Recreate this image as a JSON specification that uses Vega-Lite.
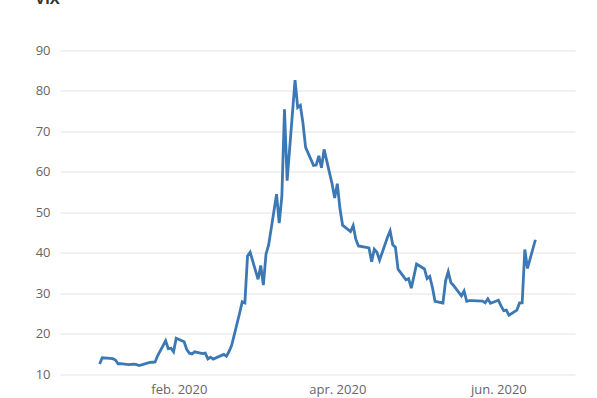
{
  "$schema": "https://vega.github.io/schema/vega-lite/v6.json",
  "width": 515,
  "height": 323.5,
  "autosize": {"type": "none"},
  "padding": {"left": 60, "top": 50.5, "right": 22, "bottom": 24},
  "background": "white",
  "title": {"text": "VIX", "anchor": "start", "frame": "bounds", "font": "Open Sans", "fontSize": 15, "fontWeight": "bold", "color": "#333333", "offset": 38},
  "config": {"view": {"stroke": null}},
  "data": {"values": [
    {"date": "2020-01-02", "vix": 12.47}, {"date": "2020-01-03", "vix": 14.02}, {"date": "2020-01-06", "vix": 13.85}, {"date": "2020-01-07", "vix": 13.79}, {"date": "2020-01-08", "vix": 13.45},
    {"date": "2020-01-09", "vix": 12.54}, {"date": "2020-01-10", "vix": 12.56}, {"date": "2020-01-13", "vix": 12.32}, {"date": "2020-01-14", "vix": 12.39}, {"date": "2020-01-15", "vix": 12.42},
    {"date": "2020-01-16", "vix": 12.32}, {"date": "2020-01-17", "vix": 12.10}, {"date": "2020-01-21", "vix": 12.85}, {"date": "2020-01-22", "vix": 12.91}, {"date": "2020-01-23", "vix": 12.98},
    {"date": "2020-01-24", "vix": 14.56}, {"date": "2020-01-27", "vix": 18.23}, {"date": "2020-01-28", "vix": 16.28}, {"date": "2020-01-29", "vix": 16.39}, {"date": "2020-01-30", "vix": 15.49},
    {"date": "2020-01-31", "vix": 18.84}, {"date": "2020-02-03", "vix": 17.97}, {"date": "2020-02-04", "vix": 16.05}, {"date": "2020-02-05", "vix": 15.15}, {"date": "2020-02-06", "vix": 14.96},
    {"date": "2020-02-07", "vix": 15.47}, {"date": "2020-02-10", "vix": 15.04}, {"date": "2020-02-11", "vix": 15.18}, {"date": "2020-02-12", "vix": 13.74}, {"date": "2020-02-13", "vix": 14.15},
    {"date": "2020-02-14", "vix": 13.68}, {"date": "2020-02-18", "vix": 14.83}, {"date": "2020-02-19", "vix": 14.38}, {"date": "2020-02-20", "vix": 15.56}, {"date": "2020-02-21", "vix": 17.08},
    {"date": "2020-02-24", "vix": 25.03}, {"date": "2020-02-25", "vix": 27.85}, {"date": "2020-02-26", "vix": 27.56}, {"date": "2020-02-27", "vix": 39.16}, {"date": "2020-02-28", "vix": 40.11},
    {"date": "2020-03-02", "vix": 33.42}, {"date": "2020-03-03", "vix": 36.82}, {"date": "2020-03-04", "vix": 31.99}, {"date": "2020-03-05", "vix": 39.62}, {"date": "2020-03-06", "vix": 41.94},
    {"date": "2020-03-09", "vix": 54.46}, {"date": "2020-03-10", "vix": 47.30}, {"date": "2020-03-11", "vix": 53.90}, {"date": "2020-03-12", "vix": 75.47}, {"date": "2020-03-13", "vix": 57.83},
    {"date": "2020-03-16", "vix": 82.69}, {"date": "2020-03-17", "vix": 75.91}, {"date": "2020-03-18", "vix": 76.45}, {"date": "2020-03-19", "vix": 72.00}, {"date": "2020-03-20", "vix": 66.04},
    {"date": "2020-03-23", "vix": 61.59}, {"date": "2020-03-24", "vix": 61.67}, {"date": "2020-03-25", "vix": 63.95}, {"date": "2020-03-26", "vix": 61.00}, {"date": "2020-03-27", "vix": 65.54},
    {"date": "2020-03-30", "vix": 57.08}, {"date": "2020-03-31", "vix": 53.54}, {"date": "2020-04-01", "vix": 57.06}, {"date": "2020-04-02", "vix": 50.91}, {"date": "2020-04-03", "vix": 46.80},
    {"date": "2020-04-06", "vix": 45.24}, {"date": "2020-04-07", "vix": 46.70}, {"date": "2020-04-08", "vix": 43.35}, {"date": "2020-04-09", "vix": 41.67}, {"date": "2020-04-13", "vix": 41.17},
    {"date": "2020-04-14", "vix": 37.76}, {"date": "2020-04-15", "vix": 40.84}, {"date": "2020-04-16", "vix": 40.11}, {"date": "2020-04-17", "vix": 38.15}, {"date": "2020-04-20", "vix": 43.83},
    {"date": "2020-04-21", "vix": 45.41}, {"date": "2020-04-22", "vix": 41.98}, {"date": "2020-04-23", "vix": 41.38}, {"date": "2020-04-24", "vix": 35.93}, {"date": "2020-04-27", "vix": 33.29},
    {"date": "2020-04-28", "vix": 33.57}, {"date": "2020-04-29", "vix": 31.23}, {"date": "2020-04-30", "vix": 34.15}, {"date": "2020-05-01", "vix": 37.19}, {"date": "2020-05-04", "vix": 35.97},
    {"date": "2020-05-05", "vix": 33.61}, {"date": "2020-05-06", "vix": 34.12}, {"date": "2020-05-07", "vix": 31.44}, {"date": "2020-05-08", "vix": 27.98}, {"date": "2020-05-11", "vix": 27.57},
    {"date": "2020-05-12", "vix": 33.04}, {"date": "2020-05-13", "vix": 35.28}, {"date": "2020-05-14", "vix": 32.61}, {"date": "2020-05-15", "vix": 31.89}, {"date": "2020-05-18", "vix": 29.30},
    {"date": "2020-05-19", "vix": 30.53}, {"date": "2020-05-20", "vix": 27.99}, {"date": "2020-05-21", "vix": 28.16}, {"date": "2020-05-22", "vix": 28.16}, {"date": "2020-05-26", "vix": 28.01},
    {"date": "2020-05-27", "vix": 27.62}, {"date": "2020-05-28", "vix": 28.59}, {"date": "2020-05-29", "vix": 27.51}, {"date": "2020-06-01", "vix": 28.23}, {"date": "2020-06-02", "vix": 26.84},
    {"date": "2020-06-03", "vix": 25.66}, {"date": "2020-06-04", "vix": 25.81}, {"date": "2020-06-05", "vix": 24.52}, {"date": "2020-06-08", "vix": 25.81}, {"date": "2020-06-09", "vix": 27.57},
    {"date": "2020-06-10", "vix": 27.57}, {"date": "2020-06-11", "vix": 40.79}, {"date": "2020-06-12", "vix": 36.09}, {"date": "2020-06-15", "vix": 43.2}
  ]},
  "mark": {"type": "line", "color": "#3b78b4", "strokeWidth": 2.8},
  "encoding": {
    "x": {
      "field": "date", "type": "temporal",
      "scale": {"type": "utc", "domain": [{"year": 2019, "month": "dec", "date": 18, "utc": true}, {"year": 2020, "month": "jun", "date": 30, "utc": true}]},
      "axis": {
        "title": null,
        "values": [{"year": 2020, "month": "feb", "date": 1, "utc": true}, {"year": 2020, "month": "apr", "date": 1, "utc": true}, {"year": 2020, "month": "jun", "date": 1, "utc": true}],
        "labelExpr": "lower(utcFormat(datum.value, '%b')) + '. ' + utcFormat(datum.value, '%Y')",
        "grid": false, "domain": false, "ticks": false,
        "labelPadding": 9, "labelFont": "Open Sans", "labelFontSize": 13, "labelColor": "#666666"
      }
    },
    "y": {
      "field": "vix", "type": "quantitative",
      "scale": {"domain": [10, 90], "nice": false, "zero": false},
      "axis": {
        "title": null,
        "values": [10, 20, 30, 40, 50, 60, 70, 80, 90],
        "domain": false, "ticks": false,
        "labelPadding": 10, "labelFont": "Open Sans", "labelFontSize": 13, "labelColor": "#666666",
        "gridColor": "#e3e3e3", "gridWidth": 1
      }
    }
  }
}
